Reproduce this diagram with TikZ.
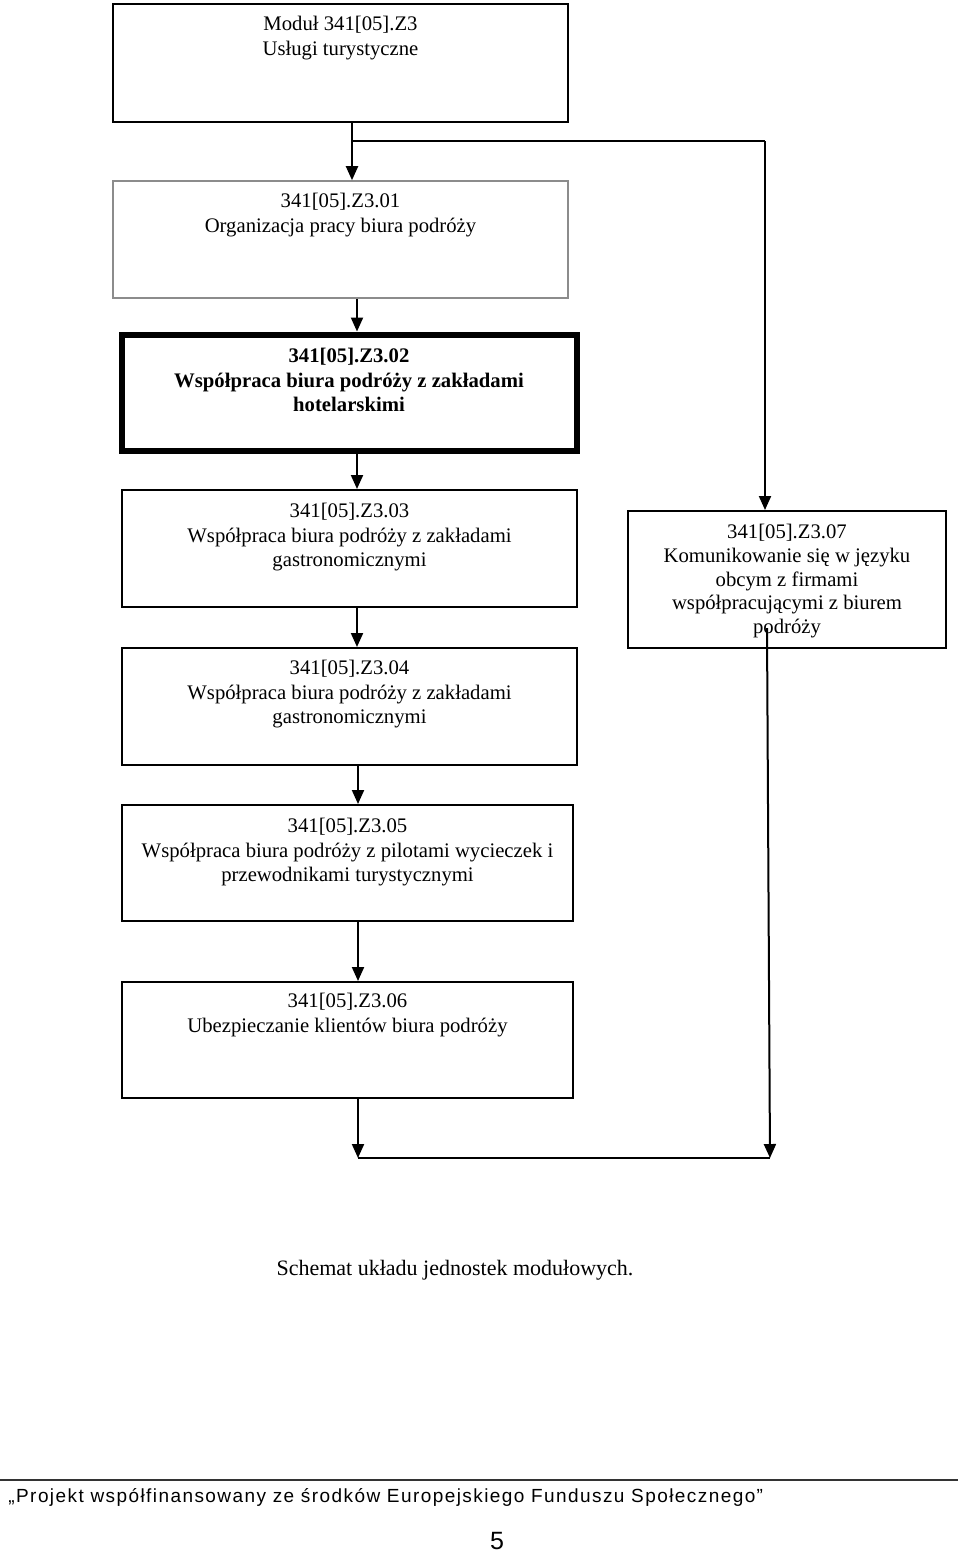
\documentclass[tikz,border=0pt]{standalone}
\usepackage{fontspec}
\setmainfont{Liberation Serif}
\newfontfamily\footsans[LetterSpace=7.5]{Liberation Sans}
\newfontfamily\pagesans{Liberation Sans}
\usetikzlibrary{arrows.meta,fit}
\begin{document}
\begin{tikzpicture}[x=0.5pt,y=-0.5pt,
 box/.style={draw,line width=1pt,inner sep=0pt},
 graybox/.style={draw=black!45,line width=0.8pt,inner sep=0pt},
 heavybox/.style={draw,line width=3pt,inner sep=0pt},
 txt/.style={anchor=north,align=center,inner sep=0pt,font=\fontsize{10.35}{12.3}\selectfont},
 conn/.style={line width=1pt},
 arr/.style={conn,-{Triangle[width=6pt,length=7pt]}}]
\useasboundingbox[fill=white] (0,0) rectangle (960,1555);
% boxes
\node[box,fit={(113,4)(568,122)}] (m) {};
\node[txt] (tm) at (340.5,16) {Moduł 341[05].Z3\\Usługi turystyczne};
\node[graybox,fit={(113,181)(568,298)}] (b1) {};
\node[txt] (t1) at (340.5,193) {341[05].Z3.01\\Organizacja pracy biura podróży};
\node[heavybox,fit={(121.5,334.5)(576.5,450.5)}] (b2) {};
\node[txt,font=\fontsize{10.35}{12.3}\selectfont\bfseries] (t2) at (349,348) {341[05].Z3.02\\Współpraca biura podróży z zakładami\\hotelarskimi};
\node[box,fit={(122,490)(577,607)}] (b3) {};
\node[txt] (t3) at (349.5,503) {341[05].Z3.03\\Współpraca biura podróży z zakładami\\gastronomicznymi};
\node[box,fit={(122,648)(577,765)}] (b4) {};
\node[txt] (t4) at (349.5,660) {341[05].Z3.04\\Współpraca biura podróży z zakładami\\gastronomicznymi};
\node[box,fit={(122,805)(573,921)}] (b5) {};
\node[txt] (t5) at (347.5,818) {341[05].Z3.05\\Współpraca biura podróży z pilotami wycieczek i\\przewodnikami turystycznymi};
\node[box,fit={(122,982)(573,1098)}] (b6) {};
\node[txt] (t6) at (347.5,993) {341[05].Z3.06\\Ubezpieczanie klientów biura podróży};
\node[box,fit={(628,511)(946,648)}] (b7) {};
\node[txt,font=\fontsize{10.35}{11.85}\selectfont] (t7) at (787,524) {341[05].Z3.07\\Komunikowanie się w języku\\obcym z firmami\\współpracującymi z biurem\\podróży};
% connectors
\coordinate (j1) at (352,141);
\coordinate (c7) at (765,141);
\coordinate (x2) at (357,0);
\coordinate (x5) at (358,0);
\coordinate (s7) at (767,628);
\coordinate (e7) at (770,1158);
\coordinate (e6) at (358,1158);
\draw[arr] (m.south -| j1) -- (b1.north -| j1);
\draw[conn] (j1) -- (c7);
\draw[arr] (c7) -- (c7 |- b7.north);
\draw[arr] (b1.south -| x2) -- (b2.north -| x2);
\draw[arr] (b2.south -| x2) -- (b3.north -| x2);
\draw[arr] (b3.south -| x2) -- (b4.north -| x2);
\draw[arr] (b4.south -| x5) -- (b5.north -| x5);
\draw[arr] (b5.south -| x5) -- (b6.north -| x5);
\draw[arr] (b6.south -| x5) -- (e6);
\draw[arr] (s7) -- (e7);
\draw[conn] (e6) -- (e7);
% caption
\node[font=\fontsize{11}{13}\selectfont,inner sep=0pt] (cap) at (455,1270) {Schemat układu jednostek modułowych.};
% footer
\coordinate (r1) at (0,1480);
\coordinate (r2) at (958,1480);
\draw[line width=0.6pt,black!80] (r1) -- (r2);
\node[anchor=west,inner sep=0pt,font=\footsans\fontsize{9.5}{11}\selectfont] (foot) at (8,1497) {„Projekt współfinansowany ze środków Europejskiego Funduszu Społecznego”};
\node[inner sep=0pt,font=\pagesans\fontsize{12.5}{14}\selectfont] (pg) at (497,1541) {5};
\end{tikzpicture}
\end{document}
